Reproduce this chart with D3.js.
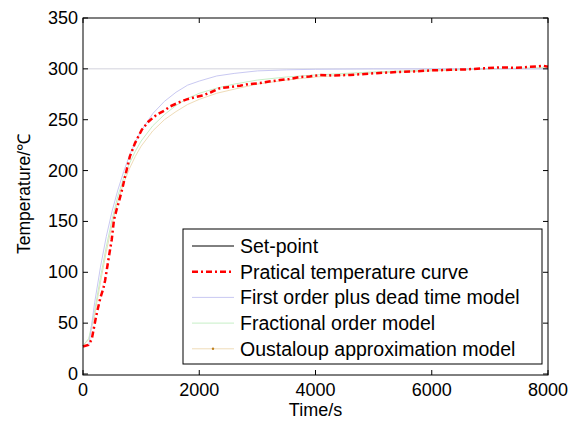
<!DOCTYPE html>
<html>
<head>
<meta charset="utf-8">
<script src="https://cdn.jsdelivr.net/npm/d3@7"></script>
<style>
  body { margin: 0; background: #fff; }
  text { font-family: "Liberation Sans", Arial, sans-serif; }
</style>
</head>
<body>
<div id="chart"></div>
<script>
// Temperature responses
const xTicks = [0, 2000, 4000, 6000, 8000];
const yTicks = [0, 50, 100, 150, 200, 250, 300, 350];
const setPoint = 300;

const redTime = [0, 90, 150, 180, 220, 250, 300, 350, 380, 436, 494, 534, 580, 625, 680, 723, 807, 895, 1010, 1124, 1268, 1400, 1497, 1650, 1785, 1920, 2071, 2200, 2358, 2500, 2702, 2850, 3046, 3200, 3390, 3550, 3735, 3900, 4079, 4300, 4596, 4850, 5100, 5456, 5700, 6000, 6317, 6600, 6900, 7177, 7450, 7700, 7923, 8000];
const redTemp = [27, 28.5, 34, 43, 55, 63, 75, 84, 92, 112, 132, 152, 162, 171, 183, 194, 214, 227, 240, 248, 255, 259, 263, 267, 270, 272, 274, 277, 281, 282, 283.5, 285, 286, 287.5, 289, 290, 292, 292.5, 294, 293.5, 294, 295, 296, 297, 297.5, 298.5, 299, 299.5, 300.5, 301.5, 301, 302, 303, 302];

const modelTime = [0, 100, 200, 300, 400, 500, 600, 700, 800, 900, 1000, 1200, 1400, 1600, 1800, 2000, 2300, 2600, 3000, 3500, 4000, 5000, 6000, 7000, 8000];
const fopdtTemp = [28, 28, 70, 105, 135, 160, 181, 199, 215, 228, 239, 256, 268, 277, 284, 288, 293, 295.5, 298, 299, 299.6, 300, 300, 300, 300];
const fracTemp = [28, 35, 62, 95, 125, 152, 175, 193, 207, 219, 229, 244, 255, 264, 271, 276, 281, 285, 289, 292, 294, 297, 299, 300, 301];
const oustTemp = [28, 34, 58, 90, 120, 147, 170, 188, 202, 214, 224, 239, 250, 258, 265, 270, 276, 280, 285, 289, 292, 296, 298, 300, 301];

const W = 583, H = 423;
const plot = {left: 83, right: 548, top: 18, bottom: 375};

const svg = d3.select("#chart").append("svg").attr("width", W).attr("height", H);

const x = d3.scaleLinear().domain([0, 8000]).range([plot.left, plot.right]);
const y = d3.scaleLinear().domain([0, 350]).range([plot.bottom - 1, plot.top]);

const line = (xs, ys) => d3.line().x((d, i) => x(xs[i])).y(d => y(d))(ys);

// set-point line (drawn light in the plot area)
svg.append("line").attr("x1", x(0)).attr("x2", x(8000)).attr("y1", y(setPoint)).attr("y2", y(setPoint))
  .attr("stroke", "#d2d2dc").attr("stroke-width", 1);

svg.append("path").attr("d", line(modelTime, oustTemp)).attr("fill", "none").attr("stroke", "#efdcb8").attr("stroke-width", 1);
svg.append("path").attr("d", line(modelTime, fracTemp)).attr("fill", "none").attr("stroke", "#c6efc6").attr("stroke-width", 1);
svg.append("path").attr("d", line(modelTime, fopdtTemp)).attr("fill", "none").attr("stroke", "#c9c9f2").attr("stroke-width", 1);
svg.append("path").attr("d", line(redTime, redTemp)).attr("fill", "none").attr("stroke", "#ff0000")
  .attr("stroke-width", 2.5).attr("stroke-dasharray", "6,3,2,3");

// frame with inward ticks on all sides
const axisG = svg.append("g");
axisG.append("rect").attr("x", plot.left).attr("y", plot.top)
  .attr("width", plot.right - plot.left).attr("height", plot.bottom - plot.top)
  .attr("fill", "none").attr("stroke", "#000").attr("stroke-width", 1);

xTicks.forEach(t => {
  axisG.append("line").attr("x1", x(t)).attr("x2", x(t)).attr("y1", plot.bottom).attr("y2", plot.bottom - 5).attr("stroke", "#000");
  axisG.append("line").attr("x1", x(t)).attr("x2", x(t)).attr("y1", plot.top).attr("y2", plot.top + 5).attr("stroke", "#000");
  axisG.append("text").attr("x", x(t)).attr("y", plot.bottom + 21).attr("text-anchor", "middle")
    .attr("font-size", 18).text(t);
});
yTicks.forEach(v => {
  axisG.append("line").attr("x1", plot.left).attr("x2", plot.left + 5).attr("y1", y(v)).attr("y2", y(v)).attr("stroke", "#000");
  axisG.append("line").attr("x1", plot.right).attr("x2", plot.right - 5).attr("y1", y(v)).attr("y2", y(v)).attr("stroke", "#000");
  axisG.append("text").attr("x", plot.left - 5).attr("y", y(v) + 6).attr("text-anchor", "end")
    .attr("font-size", 18).text(v);
});

svg.append("text").attr("x", (plot.left + plot.right) / 2).attr("y", 416).attr("text-anchor", "middle")
  .attr("font-size", 18).text("Time/s");
svg.append("text").attr("transform", "translate(30,194) rotate(-90)")
  .attr("text-anchor", "middle").attr("font-size", 17.5).text("Temperature/℃");

// legend
const legendItems = [
  {name: "Set-point", color: "#000", dash: null, width: 1},
  {name: "Pratical temperature curve", color: "#ff0000", dash: "6,3,2,3", width: 2.5},
  {name: "First order plus dead time model", color: "#c9c9f2", dash: null, width: 1},
  {name: "Fractional order model", color: "#c6efc6", dash: null, width: 1},
  {name: "Oustaloup approximation model", color: "#efdcb8", dash: null, width: 1, marker: "#c08020"}
];
const lg = svg.append("g");
lg.append("rect").attr("x", 183).attr("y", 229).attr("width", 359).attr("height", 135)
  .attr("fill", "#fff").attr("stroke", "#000");
legendItems.forEach((d, i) => {
  const cy = 246 + i * 25.7;
  lg.append("line").attr("x1", 192).attr("x2", 234).attr("y1", cy).attr("y2", cy)
    .attr("stroke", d.color).attr("stroke-width", d.width).attr("stroke-dasharray", d.dash);
  if (d.marker) lg.append("circle").attr("cx", 213).attr("cy", cy).attr("r", 1.2).attr("fill", d.marker);
  lg.append("text").attr("x", 240).attr("y", cy + 7).attr("font-size", 19.5).text(d.name);
});
</script>
</body>
</html>
